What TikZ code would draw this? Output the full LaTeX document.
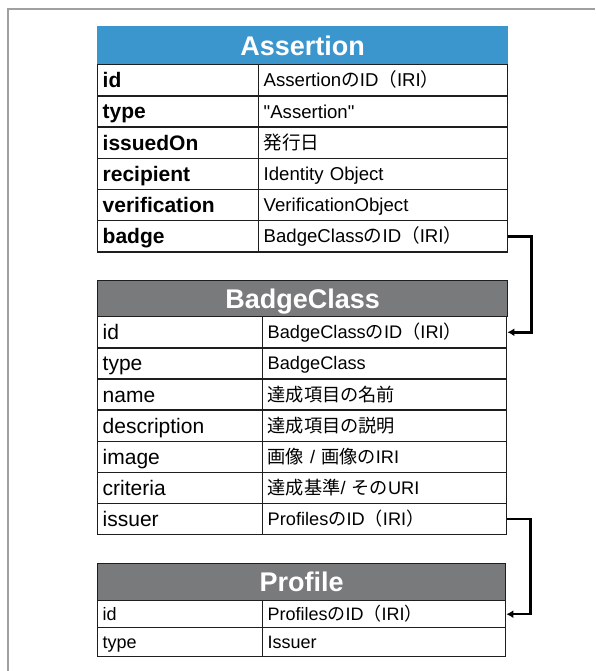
\documentclass[tikz,border=0pt]{standalone}
\usepackage{fontspec}
\setmainfont{Liberation Sans}
\newfontfamily\qfont{Liberation Sans}
\newfontfamily\jpfont{Noto Sans CJK JP}
\newcommand{\jp}[1]{{\jpfont #1}}
\usetikzlibrary{arrows.meta}
\definecolor{hblue}{HTML}{3A96CC}
\definecolor{hgray}{HTML}{797A7C}
\definecolor{linec}{HTML}{1E1E1E}
\definecolor{framec}{HTML}{A0A0A0}
\tikzset{
  cell/.style={draw=linec, line width=1.4pt, anchor=north west, inner xsep=5pt, inner ysep=0pt,
    align=left, text=black},
  hdr/.style={draw=linec, line width=1.4pt, anchor=north west, inner sep=0pt, text=white,
    font=\bfseries\fontsize{27}{30}\selectfont, text height=25pt, text depth=5.6pt},
  akey/.style={cell, text width=151pt, minimum height=31.2pt, text height=19.6pt, text depth=4.6pt,
    font=\bfseries\fontsize{21}{24}\selectfont},
  aval/.style={cell, text width=239pt, minimum height=31.2pt, text height=17.6pt, text depth=4.3pt,
    font=\fontsize{18.6}{22}\selectfont},
  bkey/.style={cell, text width=155pt, minimum height=31.15pt, text height=19.6pt, text depth=4.6pt,
    font=\fontsize{21}{24}\selectfont},
  bval/.style={cell, text width=234pt, minimum height=31.15pt, text height=17.3pt, text depth=4.2pt,
    font=\fontsize{18.2}{22}\selectfont},
  pkey/.style={cell, text width=155pt, text height=17pt, text depth=4.2pt, font=\fontsize{18}{21}\selectfont},
  pval/.style={cell, text width=233pt, text height=17pt, text depth=4.2pt, font=\fontsize{18}{21}\selectfont},
  conn/.style={draw=black, line width=2.5pt, -{Latex[length=7pt,width=8pt]}},
}
\begin{document}
\begin{tikzpicture}[x=1pt,y=-1pt]
\useasboundingbox (0,0) rectangle (595,671);
\fill[white] (0,0) rectangle (595,671);
\draw[framec, line width=2pt] (8,671) -- (8,9) -- (595,9);

% Assertion
\node[hdr, fill=hblue, draw=hblue, minimum width=410pt, minimum height=38pt] (ah) at (97,26) {Assertion};
\node[akey] (ak1) at (97,64) {id};
\node[aval] (av1) at (258,64) {Assertion\jp{の}ID\jp{（}IRI\jp{）}};
\node[akey] (ak2) at (97,95.2) {type};
\node[aval] (av2) at (258,95.2) {{\qfont"Assertion"}};
\node[akey] (ak3) at (97,126.4) {issuedOn};
\node[aval] (av3) at (258,126.4) {\jp{発行日}};
\node[akey] (ak4) at (97,157.6) {recipient};
\node[aval] (av4) at (258,157.6) {Identity Object};
\node[akey] (ak5) at (97,188.8) {verification};
\node[aval] (av5) at (258,188.8) {VerificationObject};
\node[akey] (ak6) at (97,220) {badge};
\node[aval] (av6) at (258,220) {BadgeClass\jp{の}ID\jp{（}IRI\jp{）}};

% BadgeClass
\node[hdr, fill=hgray, minimum width=410pt, minimum height=36pt] (bh) at (97,280) {BadgeClass};
\node[bkey] (bk1) at (97,316) {id};
\node[bval] (bv1) at (262,316) {BadgeClass\jp{の}ID\jp{（}IRI\jp{）}};
\node[bkey] (bk2) at (97,347.15) {type};
\node[bval] (bv2) at (262,347.15) {BadgeClass};
\node[bkey] (bk3) at (97,378.3) {name};
\node[bval] (bv3) at (262,378.3) {\jp{達成項目の名前}};
\node[bkey] (bk4) at (97,409.45) {description};
\node[bval] (bv4) at (262,409.45) {\jp{達成項目の説明}};
\node[bkey] (bk5) at (97,440.6) {image};
\node[bval] (bv5) at (262,440.6) {\jp{画像} / \jp{画像の}IRI};
\node[bkey] (bk6) at (97,471.75) {criteria};
\node[bval] (bv6) at (262,471.75) {\jp{達成基準}/ \jp{その}URI};
\node[bkey] (bk7) at (97,502.9) {issuer};
\node[bval] (bv7) at (262,502.9) {Profiles\jp{の}ID\jp{（}IRI\jp{）}};

% Profile
\node[hdr, fill=hgray, minimum width=408pt, minimum height=37pt] (ph) at (97,563) {Profile};
\node[pkey, minimum height=27pt] (pk1) at (97,600) {id};
\node[pval, minimum height=27pt] (pv1) at (262,600) {Profiles\jp{の}ID\jp{（}IRI\jp{）}};
\node[pkey, minimum height=29pt] (pk2) at (97,627) {type};
\node[pval, minimum height=29pt] (pv2) at (262,627) {Issuer};

% connectors
\draw[conn] (av6.east) -- ++(23,0) |- (bv1.east);
\draw[conn] (bv7.east) -- ++(23,0) |- (pv1.east);
\end{tikzpicture}
\end{document}
